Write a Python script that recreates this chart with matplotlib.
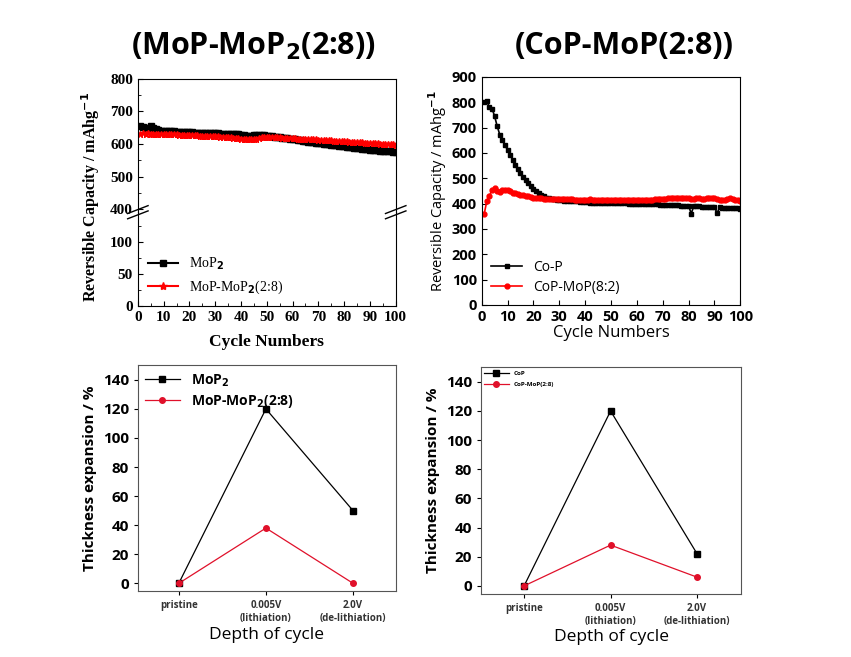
import matplotlib
matplotlib.use("Agg")
import matplotlib.pyplot as plt
from matplotlib.ticker import MultipleLocator

SANS = "Open Sans"
SERIF = "Liberation Serif"
plt.rcParams["font.family"] = [SANS, "DejaVu Sans"]
plt.rcParams["font.weight"] = "bold"

cycles = list(range(1, 101))

# top-left, MoP2 vs MoP-MoP2(2:8), mAh/g
mop2_capacity = [
    655, 652, 650, 648, 655, 648, 645, 642, 640, 640,
    640, 640, 639, 639, 638, 638, 637, 637, 636, 636,
    636, 635, 635, 635, 634, 634, 634, 633, 633, 633,
    633, 632, 632, 632, 632, 631, 631, 630, 630, 628,
    627, 626, 626, 626, 627, 628, 628, 628, 627, 626,
    625, 624, 623, 622, 621, 620, 619, 618, 617, 616,
    615, 613, 612, 610, 609, 607, 606, 605, 604, 603,
    602, 601, 600, 599, 598, 597, 596, 595, 594, 593,
    592, 591, 590, 589, 588, 587, 586, 585, 584, 583,
    582, 581, 581, 580, 579, 579, 578, 578, 577, 576,
]
mop_mop2_capacity = [
    632, 633, 632, 633, 632, 632, 632, 631, 631, 631,
    631, 630, 630, 630, 630, 629, 629, 629, 628, 628,
    628, 627, 627, 626, 626, 625, 625, 625, 624, 624,
    624, 623, 623, 622, 622, 621, 620, 619, 618, 617,
    616, 615, 614, 614, 615, 617, 619, 621, 622, 622,
    622, 622, 621, 621, 621, 620, 620, 619, 619, 618,
    618, 617, 617, 616, 616, 615, 615, 614, 614, 613,
    613, 612, 612, 611, 611, 610, 610, 609, 609, 608,
    608, 607, 607, 606, 606, 605, 605, 604, 604, 603,
    603, 602, 602, 601, 601, 600, 600, 599, 599, 598,
]

# top-right, Co-P vs CoP-MoP(8:2)
cop_capacity = [
    800, 805, 780, 775, 745, 705, 672, 650, 630, 612,
    592, 572, 553, 537, 521, 506, 492, 480, 468, 458,
    449, 441, 434, 428, 423, 420, 418, 416, 414, 413,
    412, 411, 410, 409, 409, 408, 408, 407, 405, 405,
    405, 404, 404, 404, 403, 403, 403, 402, 402, 402,
    402, 402, 401, 401, 401, 401, 400, 400, 400, 400,
    399, 399, 399, 398, 398, 398, 397, 397, 396, 396,
    395, 395, 394, 394, 393, 393, 392, 392, 391, 391,
    360, 390, 389, 389, 388, 388, 387, 387, 386, 386,
    362, 385, 384, 384, 383, 383, 382, 382, 381, 380,
]
cop_mop_capacity = [
    360, 410, 430, 455, 462, 450, 445, 455, 452, 455,
    448, 442, 440, 438, 435, 432, 430, 428, 425, 422,
    421, 420, 420, 419, 419, 418, 418, 418, 417, 417,
    417, 416, 416, 416, 416, 415, 415, 415, 415, 414,
    415, 416, 415, 414, 413, 413, 412, 412, 412, 412,
    412, 412, 412, 412, 413, 413, 413, 412, 412, 412,
    413, 413, 414, 414, 415, 415, 416, 417, 418, 418,
    419, 420, 420, 420, 420, 420, 420, 420, 420, 420,
    419, 419, 420, 420, 419, 419, 420, 420, 420, 420,
    416, 414, 412, 415, 418, 420, 418, 415, 412, 410,
]

# bottom panels, thickness expansion (%)
stages = ["pristine", "0.005V\n(lithiation)", "2.0V\n(de-lithiation)"]
mop2_expansion = [0, 120, 50]
mop_mop2_expansion = [0, 38, 0]
cop_expansion = [0, 120, 22]
cop_mop_expansion = [0, 28, 6]

fig = plt.figure(figsize=(8.51, 6.57), dpi=100)

# ---- top-left: broken y axis ----
ax_lo = fig.add_axes([0.162, 0.534, 0.303, 0.143])
ax_hi = fig.add_axes([0.162, 0.677, 0.303, 0.203])
for ax in (ax_lo, ax_hi):
    ax.plot(cycles, mop2_capacity, color="black", marker="s", ms=4, lw=1.5)
    ax.plot(cycles, mop_mop2_capacity, color="red", marker="*", ms=5, lw=1.5)
    ax.set_xlim(0, 100)
    ax.set_xticks(range(0, 101, 10))
    ax.xaxis.set_minor_locator(MultipleLocator(5))
    ax.tick_params(which="both", direction="in", labelsize=11)
ax_lo.set_ylim(0, 147)
ax_hi.set_ylim(391, 800)
ax_lo.set_yticks([0, 50, 100])
ax_hi.set_yticks([400, 500, 600, 700, 800])
ax_lo.yaxis.set_minor_locator(MultipleLocator(25))
ax_hi.yaxis.set_minor_locator(MultipleLocator(50))
ax_lo.spines["top"].set_visible(False)
ax_hi.spines["bottom"].set_visible(False)
ax_hi.tick_params(axis="x", which="both", bottom=False, labelbottom=False)
for lab in ax_lo.get_xticklabels() + ax_lo.get_yticklabels() + ax_hi.get_yticklabels():
    lab.set_fontfamily(SERIF)
    lab.set_fontweight("bold")

# break marks on both spines
d = 0.012
kw = dict(transform=fig.transFigure, color="black", lw=1, clip_on=False)
for xs in (0.162, 0.465):
    for dy in (-0.004, 0.004):
        fig.add_artist(plt.Line2D([xs - d, xs + d], [0.677 + dy - 0.006, 0.677 + dy + 0.006], **kw))

ax_lo.plot([], [], color="black", marker="s", ms=4, label="MoP$_2$")
ax_lo.plot([], [], color="red", marker="*", ms=6, label="MoP-MoP$_2$(2:8)")
handles, labels = ax_lo.get_legend_handles_labels()
ax_lo.legend(handles[-2:], labels[-2:], loc="lower left", frameon=False,
             prop={"family": SERIF, "size": 10, "weight": "normal"}, handlelength=2.2,
             borderaxespad=0.3, labelspacing=0.5)
fig.text(0.106, 0.70, "Reversible Capacity / mAhg$^{-1}$", rotation=90,
         ha="center", va="center", family=SERIF, fontweight="bold", fontsize=11.5)
fig.text(0.313, 0.479, "Cycle Numbers", ha="center", va="center",
         family=SERIF, fontweight="bold", fontsize=12.5)

# ---- top-right ----
ax_tr = fig.add_axes([0.566, 0.536, 0.304, 0.347])
ax_tr.plot(cycles, cop_capacity, color="black", marker="s", ms=3.5, lw=1.2, label="Co-P")
ax_tr.plot(cycles, cop_mop_capacity, color="red", marker="o", ms=3.5, lw=1.2, label="CoP-MoP(8:2)")
ax_tr.set_xlim(0, 100)
ax_tr.set_ylim(0, 900)
ax_tr.set_xticks(range(0, 101, 10))
ax_tr.set_yticks(range(0, 901, 100))
ax_tr.tick_params(which="both", direction="in", labelsize=10.5)
ax_tr.set_xlabel("Cycle Numbers", fontsize=12, fontweight="normal", labelpad=1)
ax_tr.set_ylabel("Reversible Capacity / mAhg$^{-1}$", fontsize=10.5,
                 fontweight="normal", labelpad=2)
ax_tr.legend(loc="lower left", frameon=False, prop={"size": 10, "weight": "normal"},
             handlelength=2.2, borderaxespad=0.3, labelspacing=0.4)

# ---- bottom panels ----
def expansion_panel(rect, black, red, labels, xlim, small_legend):
    ax = fig.add_axes(rect)
    xs = range(len(stages))
    ax.plot(xs, black, color="black", marker="s", ms=4, lw=0.9, label=labels[0])
    ax.plot(xs, red, color="#e0102a", marker="o", ms=4, lw=0.9, label=labels[1])
    ax.set_xlim(*xlim)
    ax.set_ylim(-5.5, 150)
    ax.set_xticks(list(xs))
    ax.set_xticklabels(stages, fontsize=7, fontweight="bold", color="#333333")
    ax.set_yticks(range(0, 141, 20))
    ax.tick_params(direction="out", length=3)
    ax.tick_params(axis="y", labelsize=11)
    for sp in ax.spines.values():
        sp.set_color("#555555")
    ax.set_xlabel("Depth of cycle", fontsize=12.5, fontweight="normal", labelpad=2)
    ax.set_ylabel("Thickness expansion / %", fontsize=11, fontweight="bold", labelpad=4)
    size = 4.5 if small_legend else 10
    ax.legend(loc="upper left", frameon=False, prop={"size": size},
              handlelength=4 if small_legend else 2.5, borderaxespad=0.1,
              labelspacing=0.9 if small_legend else 0.3)
    return ax

expansion_panel([0.162, 0.100, 0.303, 0.344], mop2_expansion, mop_mop2_expansion,
                ["MoP$_2$", "MoP-MoP$_2$(2:8)"], (-0.47, 2.49), False)
expansion_panel([0.565, 0.096, 0.306, 0.345], cop_expansion, cop_mop_expansion,
                ["CoP", "CoP-MoP(2:8)"], (-0.5, 2.51), True)

# panel titles
fig.text(0.298, 0.930, "(MoP-MoP$_2$(2:8))", ha="center", va="center",
         fontweight="bold", fontsize=22)
fig.text(0.734, 0.930, "(CoP-MoP(2:8))", ha="center", va="center",
         fontweight="bold", fontsize=22)

fig.savefig("out.png", dpi=100)
